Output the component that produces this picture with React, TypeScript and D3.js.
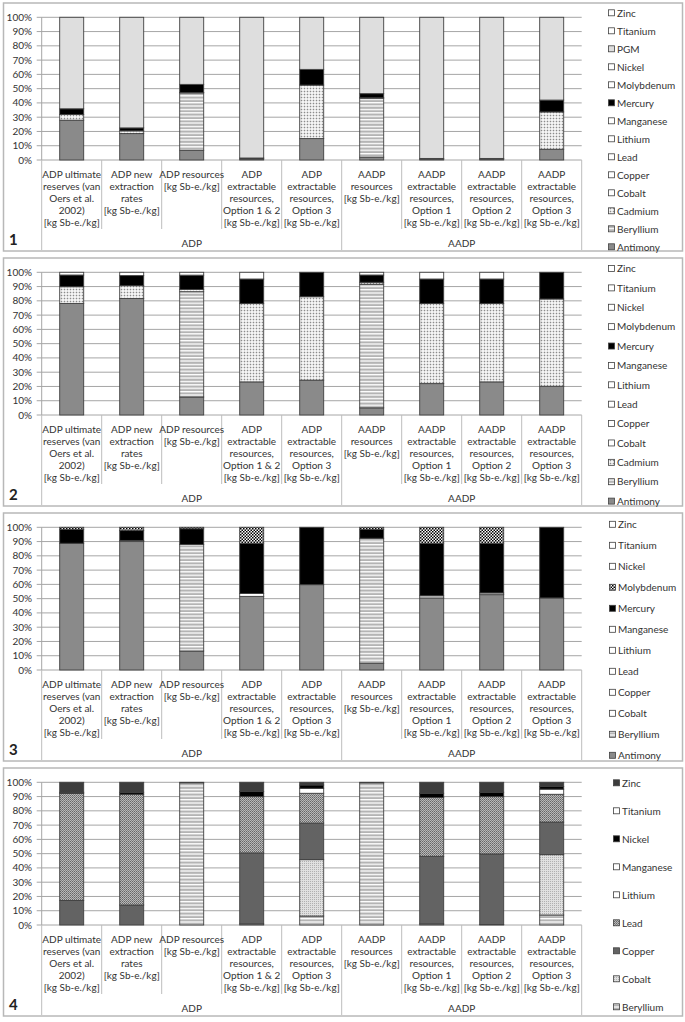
import React from "react";
import * as d3 from "d3";

// category labels (one array of lines per bar)
const categories = [
  ["ADP ultimate", "reserves (van", "Oers et al.", "2002)", "[kg Sb-e./kg]"],
  ["ADP new", "extraction", "rates", "[kg Sb-e./kg]"],
  ["ADP resources", "[kg Sb-e./kg]"],
  ["ADP", "extractable", "resources,", "Option 1 & 2", "[kg Sb-e./kg]"],
  ["ADP", "extractable", "resources,", "Option 3", "[kg Sb-e./kg]"],
  ["AADP", "resources", "[kg Sb-e./kg]"],
  ["AADP", "extractable", "resources,", "Option 1", "[kg Sb-e./kg]"],
  ["AADP", "extractable", "resources,", "Option 2", "[kg Sb-e./kg]"],
  ["AADP", "extractable", "resources,", "Option 3", "[kg Sb-e./kg]"],
];
const groupNames = ["ADP", "AADP"];
const groupSizes = [5, 4];
const yTicks = [0, 0.1, 0.2, 0.3, 0.4, 0.5, 0.6, 0.7, 0.8, 0.9, 1];

// panel 1
const series1 = ["Antimony", "Beryllium", "Cadmium", "Cobalt", "Copper", "Lead", "Lithium", "Manganese", "Mercury", "Molybdenum", "Nickel", "PGM", "Titanium", "Zinc"];
const values1 = [
  [27.9, 18.5, 6.8, 0.8, 15, 2, 0.6, 0.6, 7.5], // Antimony
  [0, 0, 40.2, 0, 0, 41.3, 0, 0, 0], // Beryllium
  [4, 1.9, 0.3, 0.6, 37.5, 0.3, 0.5, 0.5, 26.2], // Cadmium
  [0, 0, 0, 0, 0, 0, 0, 0, 0], // Cobalt
  [0, 0, 0, 0, 0, 0, 0, 0, 0], // Copper
  [0, 0, 0, 0, 0, 0, 0, 0, 0], // Lead
  [0, 0, 0, 0, 0, 0, 0, 0, 0], // Lithium
  [0, 0, 0, 0, 0, 0, 0, 0, 0], // Manganese
  [4, 2.1, 5.7, 0, 11, 2.9, 0, 0, 8.3], // Mercury
  [0, 0, 0, 0, 0, 0, 0, 0, 0], // Molybdenum
  [0, 0, 0, 0, 0, 0, 0, 0, 0], // Nickel
  [64.1, 77.5, 47, 98.6, 36.5, 53.5, 98.9, 98.9, 58], // PGM
  [0, 0, 0, 0, 0, 0, 0, 0, 0], // Titanium
  [0, 0, 0, 0, 0, 0, 0, 0, 0], // Zinc
];

// panel 2
const series2 = ["Antimony", "Beryllium", "Cadmium", "Cobalt", "Copper", "Lead", "Lithium", "Manganese", "Mercury", "Molybdenum", "Nickel", "Titanium", "Zinc"];
const values2 = [
  [78.2, 81.7, 12.6, 23.2, 24.4, 5, 22, 23.2, 20.1], // Antimony
  [0, 0, 73.8, 0, 0, 86.6, 0, 0, 0], // Beryllium
  [11.7, 8.9, 1.6, 55, 58.5, 1.4, 56.2, 55, 61.2], // Cadmium
  [0, 0, 0, 0, 0, 0, 0, 0, 0], // Cobalt
  [0, 0, 0, 0, 0, 0, 0, 0, 0], // Copper
  [0, 0, 0, 0, 0, 0, 0, 0, 0], // Lead
  [0, 0, 0, 0, 0, 0, 0, 0, 0], // Lithium
  [0, 0, 0, 0, 0, 0, 0, 0, 0], // Manganese
  [8.2, 7.1, 10, 17.1, 17.1, 5.1, 17.1, 17.1, 18.7], // Mercury
  [1.9, 2.3, 2, 4.7, 0, 1.9, 4.7, 4.7, 0], // Molybdenum
  [0, 0, 0, 0, 0, 0, 0, 0, 0], // Nickel
  [0, 0, 0, 0, 0, 0, 0, 0, 0], // Titanium
  [0, 0, 0, 0, 0, 0, 0, 0, 0], // Zinc
];

// panel 3
const series3 = ["Antimony", "Beryllium", "Cobalt", "Copper", "Lead", "Lithium", "Manganese", "Mercury", "Molybdenum", "Nickel", "Titanium", "Zinc"];
const values3 = [
  [88.8, 90, 13.3, 51.6, 59.8, 4.7, 50.5, 52.8, 50.5], // Antimony
  [0, 0, 74.7, 0, 0, 87.6, 0, 0, 0], // Beryllium
  [0, 0, 0, 0, 0, 0, 0, 0, 0], // Cobalt
  [0, 0.8, 0, 2, 0, 0, 1.5, 1.2, 0], // Copper
  [0, 0, 0, 0, 0, 0, 0, 0, 0], // Lead
  [0, 0, 0, 0, 0, 0, 0, 0, 0], // Lithium
  [0, 0, 0, 0, 0, 0, 0, 0, 0], // Manganese
  [9.8, 6.9, 11, 35.2, 40.2, 6.3, 36.8, 34.8, 49.5], // Mercury
  [1.4, 2.3, 1, 11.2, 0, 1.4, 11.2, 11.2, 0], // Molybdenum
  [0, 0, 0, 0, 0, 0, 0, 0, 0], // Nickel
  [0, 0, 0, 0, 0, 0, 0, 0, 0], // Titanium
  [0, 0, 0, 0, 0, 0, 0, 0, 0], // Zinc
];

// panel 4
const series4 = ["Beryllium", "Cobalt", "Copper", "Lead", "Lithium", "Manganese", "Nickel", "Titanium", "Zinc"];
const values4 = [
  [0, 0, 99.6, 0.8, 6.3, 99.6, 0.8, 0.3, 7], // Beryllium
  [0, 0, 0, 0, 39.5, 0, 0, 0, 42.3], // Cobalt
  [17.2, 14, 0, 49.7, 25.6, 0, 47.3, 49.5, 22.8], // Copper
  [75.1, 77.6, 0, 39.5, 20.9, 0, 41.2, 40.2, 19.5], // Lead
  [0, 0, 0, 0, 0, 0, 0, 0, 0], // Lithium
  [0, 0, 0, 0, 3.5, 0, 0, 0, 3.6], // Manganese
  [0.7, 1.4, 0, 3.5, 2.3, 0, 3, 3, 1.8], // Nickel
  [0, 0, 0, 0, 0, 0, 0, 0, 0], // Titanium
  [7, 7, 0.4, 6.5, 1.9, 0.4, 7.7, 7, 3], // Zinc
];

const fills123 = {
  Antimony: "#8a8a8a",
  Beryllium: "url(#stripes)",
  Cadmium: "url(#dots)",
  Mercury: "#000",
  PGM: "#dedede",
};
const fills3 = { ...fills123, Molybdenum: "url(#checker)" };
const fills4 = {
  Beryllium: "url(#stripes)",
  Cobalt: "url(#lightdots)",
  Copper: "#636363",
  Lead: "url(#hatch)",
  Nickel: "#000",
  Zinc: "#3c3c3c",
};

const panels = [
  { num: "1", series: series1, values: values1, fills: fills123, legendX: 608.5 },
  { num: "2", series: series2, values: values2, fills: fills123, legendX: 608.5 },
  { num: "3", series: series3, values: values3, fills: fills3, legendX: 609.5 },
  { num: "4", series: series4, values: values4, fills: fills4, legendX: 613.5 },
];

const font = "Lato, 'Open Sans', sans-serif";
const textColor = "#333";
const fs = 10;
const plotLeft = 41.7;
const plotRight = 581.7;
const panelStep = 255;

function Panel({ p, idx }) {
  const x = d3.scaleBand().domain(d3.range(categories.length)).range([plotLeft, plotRight]).padding(0);
  const barW = x.bandwidth() * 0.4;
  const y = d3.scaleLinear().domain([0, 1]).range([160, 17.3]);
  const rows = categories.map((_, i) => {
    const r = {};
    p.series.forEach((s, k) => (r[s] = p.values[k][i]));
    return r;
  });
  const stacked = d3.stack().keys(p.series).offset(d3.stackOffsetExpand)(rows);
  const legendItems = p.series.slice().reverse();
  const ly = d3.scaleBand().domain(legendItems).range([4, 256]);

  // group boundaries
  const bounds = [0];
  groupSizes.forEach((g) => bounds.push(bounds[bounds.length - 1] + g));
  const xAt = (i) => (i >= categories.length ? plotRight : x(i));

  return (
    <g transform={`translate(0,${idx * panelStep})`}>
      <rect x={3.5} y={3} width={679} height={248} fill="#fff" stroke="#b8b8b8" strokeWidth={1.5} />
      {yTicks.map((t) => (
        <g key={t}>
          <line x1={plotLeft - 5} x2={t === 0 ? plotLeft : plotRight} y1={y(t)} y2={y(t)} stroke="#a6a6a6" strokeWidth={1} />
          <text x={32} y={y(t) + 3.5} textAnchor="end" fontSize={fs} fontFamily={font} fill={textColor}>
            {Math.round(t * 100)}%
          </text>
        </g>
      ))}
      <line x1={plotLeft} x2={plotRight} y1={160} y2={160} stroke="#a6a6a6" />
      <line x1={plotLeft} x2={plotLeft} y1={17.3} y2={160} stroke="#a6a6a6" />
      {/* category separators */}
      {d3.range(1, categories.length).filter((i) => !bounds.includes(i)).map((i) => (
        <line key={i} x1={x(i)} x2={x(i)} y1={160} y2={229} stroke="#bdbdbd" />
      ))}
      {bounds.map((b) => (
        <line key={"g" + b} x1={xAt(b)} x2={xAt(b)} y1={160} y2={250} stroke="#bdbdbd" />
      ))}
      {categories.map((lines, i) => (
        <text key={i} textAnchor="middle" fontSize={fs} fontFamily={font} fill={textColor}>
          {lines.map((l, j) => (
            <tspan key={j} x={x(i) + x.bandwidth() / 2} y={177.5 + j * 12}>
              {l}
            </tspan>
          ))}
        </text>
      ))}
      {groupNames.map((g, gi) => (
        <text key={g} x={(xAt(bounds[gi]) + xAt(bounds[gi + 1])) / 2} y={246.5} textAnchor="middle" fontSize={fs} fontFamily={font} fill={textColor}>
          {g}
        </text>
      ))}
      <text x={9} y={245} fontSize={15} fontWeight="bold" fontFamily={font} fill="#222">
        {p.num}
      </text>
      {stacked.map((layer) => (
        <g key={layer.key} fill={p.fills[layer.key] || "#fff"}>
          {layer.map((d, i) =>
            d[1] - d[0] > 0.0001 ? (
              <rect
                key={i}
                x={x(i) + (x.bandwidth() - barW) / 2}
                y={y(d[1])}
                width={barW}
                height={y(d[0]) - y(d[1])}
                stroke="#404040"
                strokeWidth={0.9}
              />
            ) : null
          )}
        </g>
      ))}
      {legendItems.map((s) => {
        const cy = ly(s) + ly.bandwidth() / 2;
        return (
          <g key={s}>
            <rect x={p.legendX} y={cy - 3.2} width={6} height={6} fill={p.fills[s] || "#fff"} stroke="#404040" strokeWidth={0.8} />
            <text x={p.legendX + 8.5} y={cy + 3.5} fontSize={fs} fontFamily={font} fill={textColor}>
              {s}
            </text>
          </g>
        );
      })}
    </g>
  );
}

export default function App() {
  return (
    <svg width={685} height={1022} style={{ position: "absolute", left: 0, top: 0, background: "#fff" }}>
      <defs>
        <pattern id="stripes" width={4} height={3.4} patternUnits="userSpaceOnUse">
          <rect width={4} height={3.4} fill="#b4b4b4" />
          <rect y={0} width={4} height={1.3} fill="#fff" />
        </pattern>
        <pattern id="dots" width={3} height={3} patternUnits="userSpaceOnUse">
          <rect width={3} height={3} fill="#fff" />
          <rect x={0.7} y={0.7} width={1.6} height={1.6} fill="#8c8c8c" />
        </pattern>
        <pattern id="checker" width={3} height={3} patternUnits="userSpaceOnUse">
          <rect width={3} height={3} fill="#fff" />
          <rect width={1.5} height={1.5} fill="#000" />
          <rect x={1.5} y={1.5} width={1.5} height={1.5} fill="#000" />
        </pattern>
        <pattern id="lightdots" width={2} height={2} patternUnits="userSpaceOnUse">
          <rect width={2} height={2} fill="#e0e0e0" />
          <rect width={1} height={1} fill="#b0b0b0" />
        </pattern>
        <pattern id="hatch" width={2} height={2} patternUnits="userSpaceOnUse">
          <rect width={2} height={2} fill="#b8b8b8" />
          <rect width={1} height={1} fill="#666" />
          <rect x={1} y={1} width={1} height={1} fill="#808080" />
        </pattern>
      </defs>
      {panels.map((p, i) => (
        <Panel key={p.num} p={p} idx={i} />
      ))}
    </svg>
  );
}
